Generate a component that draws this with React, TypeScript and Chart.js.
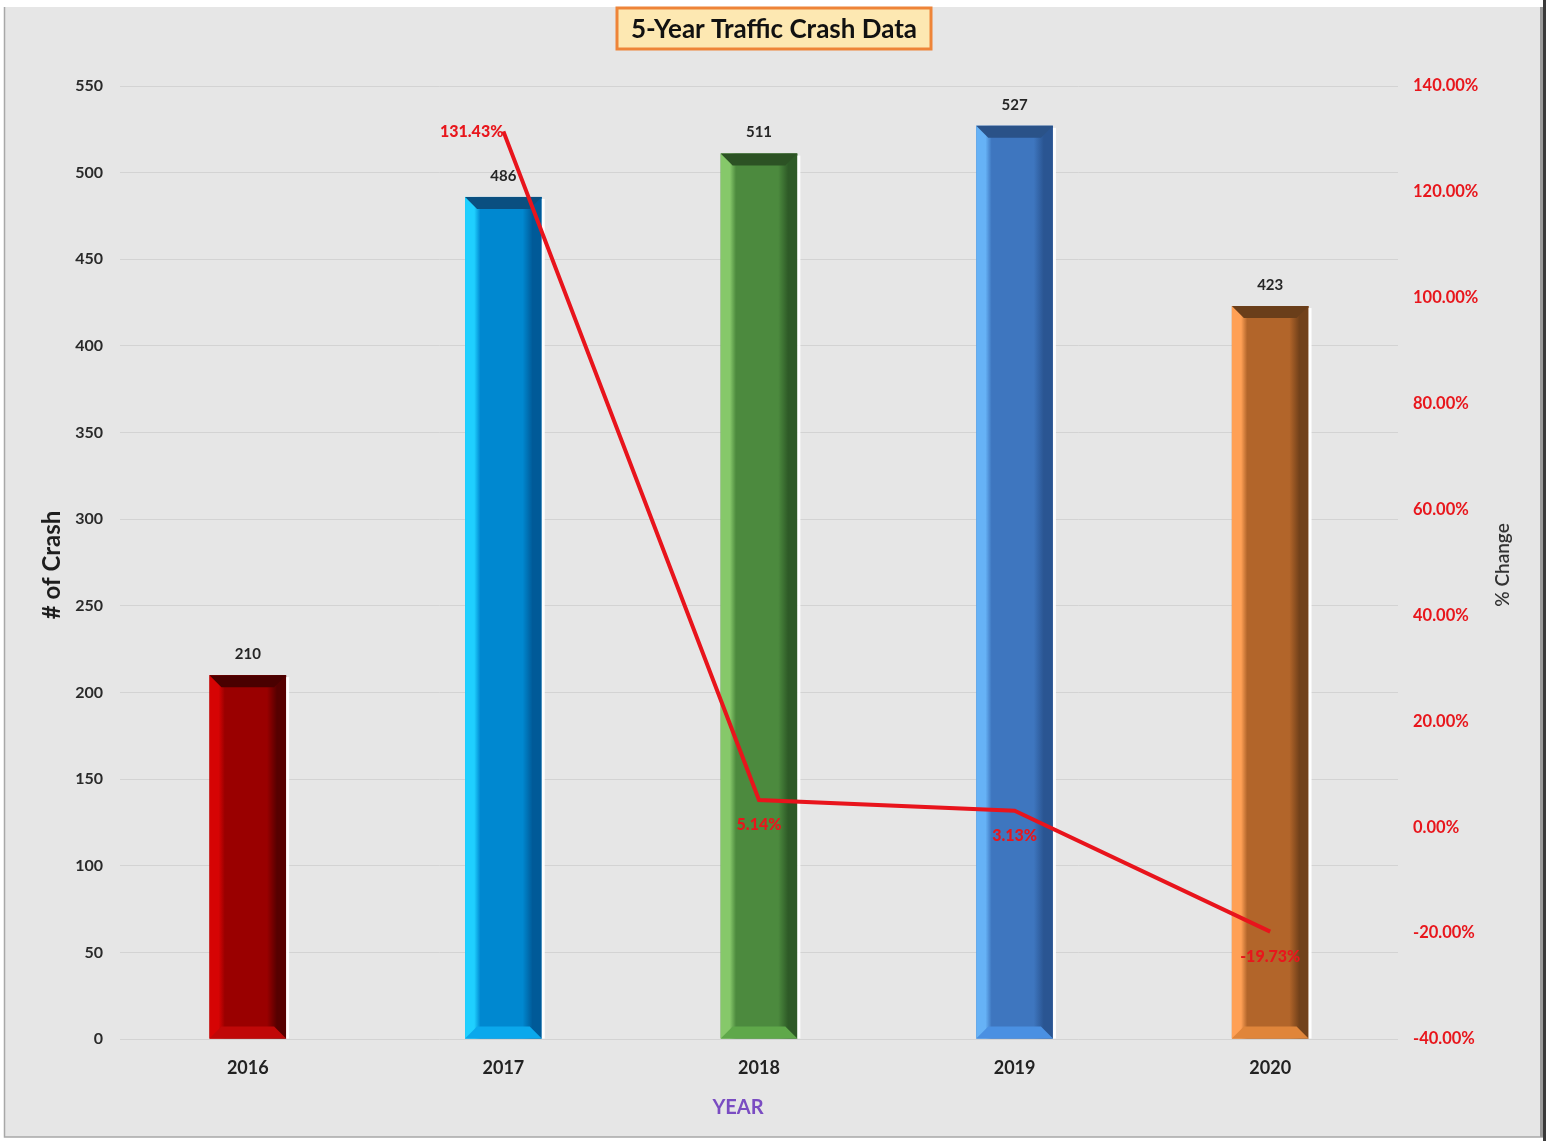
import React, { useEffect, useRef } from "react";
import { Chart, registerables } from "chart.js";

Chart.register(...registerables);

const years = ["2016", "2017", "2018", "2019", "2020"];
const crashes = [210, 486, 511, 527, 423];
const pctChange: (number | null)[] = [null, 131.43, 5.14, 3.13, -19.73];
const pctLabels = ["", "131.43%", "5.14%", "3.13%", "-19.73%"];
const leftMin = 0;
const leftMax = 550;
const leftStep = 50;
const rightMin = -40;
const rightMax = 140;
const rightStep = 20;
const titleText = "5-Year Traffic Crash Data";
const leftTitle = "# of Crash";
const rightTitle = "% Change";
const xTitle = "YEAR";

// light, mid, dark, topBevel, bottomBevel
const barPalettes = [
  ["#d60404", "#9a0000", "#560000", "#4a0000", "#c00808"],
  ["#1fd0ff", "#0088d0", "#005a98", "#0a4f80", "#0aa8ec"],
  ["#86c86a", "#4c8a3e", "#2e5a27", "#2c5224", "#5fa84a"],
  ["#66b2f6", "#3e76bf", "#2a5592", "#2a5288", "#4a90e2"],
  ["#ffa055", "#b2652a", "#72411a", "#6a3e1a", "#e0853a"],
];

const FONT = "Lato, 'Open Sans', sans-serif";

const framePlugin = {
  id: "frame",
  beforeDraw(chart: any) {
    const { ctx, width, height } = chart;
    ctx.save();
    ctx.fillStyle = "#ffffff";
    ctx.fillRect(0, 0, width, height);
    ctx.fillStyle = "#e6e6e6";
    ctx.fillRect(4, 7, 1541, 1130);
    ctx.strokeStyle = "#a8a8a8";
    ctx.lineWidth = 1.5;
    ctx.beginPath();
    ctx.moveTo(4.5, 7);
    ctx.lineTo(4.5, 1137);
    ctx.lineTo(1545, 1137);
    ctx.stroke();
    ctx.fillStyle = "#3a3a3a";
    ctx.fillRect(1543, 0, 3, height);
    ctx.fillStyle = "#9a9a9a";
    ctx.fillRect(1540, 7, 3, 1130);
    ctx.restore();
  },
};

const barStylePlugin = {
  id: "barStyle",
  afterDatasetDraw(chart: any, args: any) {
    if (args.index !== 0) return;
    const { ctx } = chart;
    const meta = chart.getDatasetMeta(0);
    meta.data.forEach((el: any, i: number) => {
      const p = el.getProps(["x", "y", "base", "width"], true);
      const pal = barPalettes[i % barPalettes.length];
      const L = p.x - p.width / 2;
      const R = p.x + p.width / 2;
      const T = p.y;
      const B = p.base;
      const b = 12;
      ctx.save();
      const g = ctx.createLinearGradient(L, 0, R, 0);
      g.addColorStop(0, pal[0]);
      g.addColorStop(0.12, pal[0]);
      g.addColorStop(0.2, pal[1]);
      g.addColorStop(0.75, pal[1]);
      g.addColorStop(0.88, pal[2]);
      g.addColorStop(1, pal[2]);
      ctx.fillStyle = g;
      ctx.fillRect(L, T, R - L, B - T);
      // top bevel
      ctx.fillStyle = pal[3];
      ctx.beginPath();
      ctx.moveTo(L, T);
      ctx.lineTo(R, T);
      ctx.lineTo(R - b, T + b);
      ctx.lineTo(L + b, T + b);
      ctx.closePath();
      ctx.fill();
      // bottom bevel
      ctx.fillStyle = pal[4];
      ctx.beginPath();
      ctx.moveTo(L, B);
      ctx.lineTo(R, B);
      ctx.lineTo(R - b, B - b);
      ctx.lineTo(L + b, B - b);
      ctx.closePath();
      ctx.fill();
      // white right highlight
      ctx.fillStyle = "rgba(255,255,255,0.95)";
      ctx.fillRect(R, T + 2, 3, B - T - 2);
      ctx.restore();
    });
  },
};

const textPlugin = {
  id: "texts",
  afterDatasetsDraw(chart: any) {
    const { ctx } = chart;
    ctx.save();
    // bar value labels
    const barMeta = chart.getDatasetMeta(0);
    ctx.font = `bold 15px ${FONT}`;
    ctx.fillStyle = "#262626";
    ctx.textAlign = "center";
    ctx.textBaseline = "middle";
    barMeta.data.forEach((el: any, i: number) => {
      const p = el.getProps(["x", "y"], true);
      ctx.fillText(String(crashes[i]), p.x, p.y - 21);
    });
    // line labels
    const lineMeta = chart.getDatasetMeta(1);
    ctx.font = `900 16px ${FONT}`;
    ctx.fillStyle = "#e8161c";
    lineMeta.data.forEach((el: any, i: number) => {
      if (pctChange[i] == null) return;
      const p = el.getProps(["x", "y"], true);
      if (i === 1) {
        ctx.textAlign = "right";
        ctx.fillText(pctLabels[i], p.x, p.y);
      } else {
        ctx.textAlign = "center";
        ctx.fillText(pctLabels[i], p.x, p.y + 25);
      }
    });
    ctx.restore();
  },
  afterDraw(chart: any) {
    const { ctx } = chart;
    ctx.save();
    // title box
    const bx = 617, by = 8, bw = 314, bh = 41;
    ctx.fillStyle = "#fde8b2";
    ctx.fillRect(bx, by, bw, bh);
    ctx.strokeStyle = "#ee8438";
    ctx.lineWidth = 3;
    ctx.strokeRect(bx, by, bw, bh);
    let size = 25;
    ctx.font = `bold ${size}px ${FONT}`;
    const w = ctx.measureText(titleText).width;
    size = Math.min(26, size * (294 / w));
    ctx.font = `bold ${size}px ${FONT}`;
    ctx.fillStyle = "#111111";
    ctx.textAlign = "center";
    ctx.textBaseline = "middle";
    ctx.fillText(titleText, bx + bw / 2, by + bh / 2 + 1);
    // left axis title
    ctx.save();
    ctx.translate(52, 565);
    ctx.rotate(-Math.PI / 2);
    ctx.font = `bold 24px ${FONT}`;
    ctx.fillStyle = "#1e1e1e";
    ctx.fillText(leftTitle, 0, 0);
    ctx.restore();
    // right axis title
    ctx.save();
    ctx.translate(1503, 565);
    ctx.rotate(-Math.PI / 2);
    ctx.font = `600 19px ${FONT}`;
    ctx.fillStyle = "#333333";
    ctx.fillText(rightTitle, 0, 0);
    ctx.restore();
    // x title
    ctx.font = `bold 20px ${FONT}`;
    ctx.fillStyle = "#7a4cc2";
    ctx.fillText(xTitle, 738, 1108);
    ctx.restore();
  },
};

export default function App() {
  const ref = useRef<HTMLCanvasElement | null>(null);
  useEffect(() => {
    if (!ref.current) return;
    const chart = new Chart(ref.current, {
      type: "bar",
      data: {
        labels: years,
        datasets: [
          {
            type: "bar",
            label: "# of Crash",
            data: crashes,
            backgroundColor: barPalettes.map((p) => p[1]),
            yAxisID: "y",
            order: 2,
            barPercentage: 0.3,
            categoryPercentage: 1,
          },
          {
            type: "line",
            label: "% Change",
            data: pctChange,
            borderColor: "#e8141c",
            borderWidth: 4,
            pointRadius: 0,
            tension: 0,
            yAxisID: "y1",
            order: 1,
          } as any,
        ],
      },
      options: {
        responsive: false,
        animation: false,
        layout: { padding: { top: 86, left: 0, right: 0, bottom: 0 } },
        plugins: {
          legend: { display: false },
          title: { display: false },
          tooltip: { enabled: false },
        },
        scales: {
          x: {
            grid: { display: false, drawTicks: false },
            border: { display: false },
            ticks: {
              padding: 18,
              color: "#222222",
              font: { family: FONT, size: 18, weight: "bold" },
            },
            afterFit(scale: any) {
              scale.height = 102;
            },
          },
          y: {
            position: "left",
            min: leftMin,
            max: leftMax,
            ticks: {
              stepSize: leftStep,
              padding: 17,
              color: "#2a2a2a",
              font: { family: FONT, size: 16, weight: "bold" },
            },
            grid: { color: "#d3d3d3", lineWidth: 1, drawTicks: false },
            border: { display: false },
            afterFit(scale: any) {
              scale.width = 120;
            },
          },
          y1: {
            position: "right",
            min: rightMin,
            max: rightMax,
            ticks: {
              stepSize: rightStep,
              padding: 15,
              color: "#e8161c",
              font: { family: FONT, size: 16.5, weight: "bold" },
              callback: (v: any) => Number(v).toFixed(2) + "%",
            },
            grid: { display: false, drawTicks: false },
            border: { display: false },
            afterFit(scale: any) {
              scale.width = 153;
            },
          },
        },
      },
      plugins: [framePlugin, barStylePlugin, textPlugin],
    });
    return () => chart.destroy();
  }, []);
  return (
    <div style={{ position: "absolute", left: 0, top: 0, width: 1551, height: 1141 }}>
      <canvas ref={ref} width={1551} height={1141} style={{ width: 1551, height: 1141 }} />
    </div>
  );
}
